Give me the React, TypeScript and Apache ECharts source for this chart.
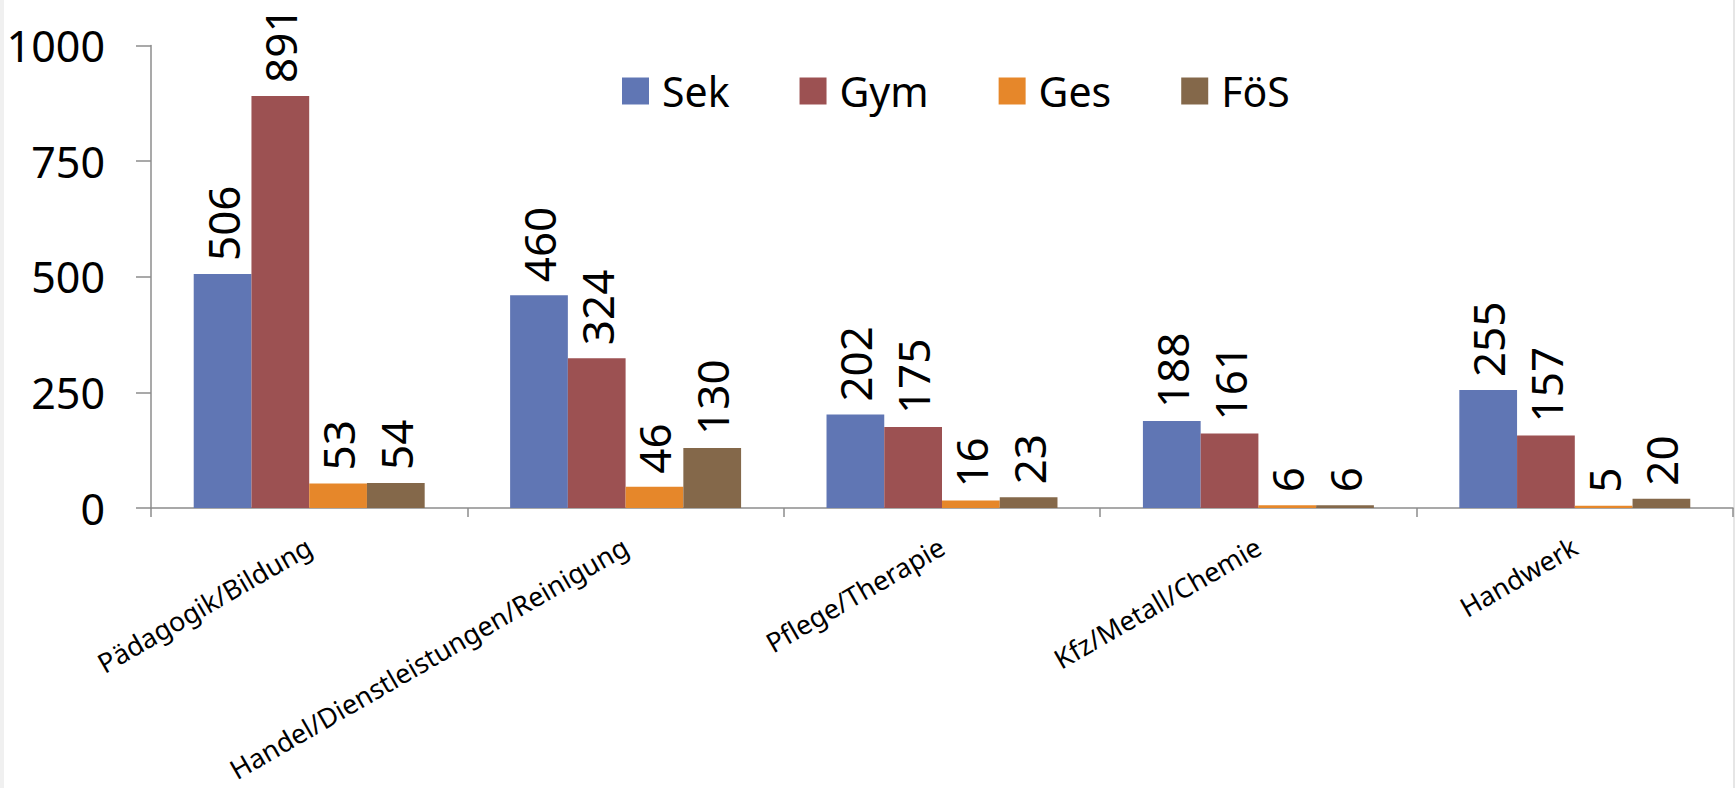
import React, { useEffect, useRef } from "react";
import * as echarts from "echarts";

const categories = [
  "Pädagogik/Bildung",
  "Handel/Dienstleistungen/Reinigung",
  "Pflege/Therapie",
  "Kfz/Metall/Chemie",
  "Handwerk",
];
const seriesNames = ["Sek", "Gym", "Ges", "FöS"];
const sek = [506, 460, 202, 188, 255];
const gym = [891, 324, 175, 161, 157];
const ges = [53, 46, 16, 6, 5];
const foes = [54, 130, 23, 6, 20];
const yTicks = { min: 0, max: 1000, interval: 250 };

const colors = ["#6076B4", "#9C5152", "#E6872A", "#84684A"];
const FONT = "Noto Sans";

export default function App() {
  const ref = useRef<HTMLDivElement>(null);
  useEffect(() => {
    if (!ref.current) return;
    const chart = echarts.init(ref.current, undefined, { renderer: "svg" });
    const values = [sek, gym, ges, foes];
    chart.setOption({
      animation: false,
      backgroundColor: "#ffffff",
      textStyle: { fontFamily: FONT },
      graphic: [
        { type: "rect", shape: { x: 0, y: 0, width: 4, height: 788 }, style: { fill: "#f0f0f0" }, silent: true },
        { type: "rect", shape: { x: 1733, y: 0, width: 2, height: 788 }, style: { fill: "#e6e6e6" }, silent: true },
      ],
      legend: {
        data: seriesNames,
        left: 617,
        top: 65,
        orient: "horizontal",
        itemWidth: 27,
        itemHeight: 27,
        itemGap: 70,
        icon: "rect",
        textStyle: {
          fontFamily: FONT,
          fontSize: 41,
          color: "#000",
          lineHeight: 42,
          padding: [0, 0, 0, 8],
        },
      },
      grid: { left: 151, right: 2, top: 45.5, bottom: 280, containLabel: false },
      xAxis: {
        type: "category",
        data: categories,
        boundaryGap: true,
        axisLine: { show: true, lineStyle: { color: "#8c8c8c", width: 1.5 } },
        axisTick: { show: true, length: 9, interval: 0, lineStyle: { color: "#8c8c8c", width: 1.5 } },
        axisLabel: {
          interval: 0,
          rotate: 30,
          margin: 36,
          align: "right",
          verticalAlign: "middle",
          fontFamily: FONT,
          fontSize: 27,
          color: "#000",
        },
        splitLine: { show: false },
      },
      yAxis: {
        type: "value",
        min: yTicks.min,
        max: yTicks.max,
        interval: yTicks.interval,
        axisLine: { show: true, lineStyle: { color: "#8c8c8c", width: 1.5 } },
        axisTick: { show: true, length: 15, inside: false, lineStyle: { color: "#8c8c8c", width: 1.5 } },
        axisLabel: {
          margin: 46,
          fontFamily: FONT,
          fontSize: 43,
          color: "#000",
          formatter: (v: number) => String(v),
        },
        splitLine: { show: false },
      },
      series: seriesNames.map((name, i) => ({
        name,
        type: "bar",
        data: values[i],
        barGap: "0%",
        barCategoryGap: "27%",
        itemStyle: { color: colors[i] },
        label: {
          show: true,
          position: "top",
          rotate: 90,
          align: "left",
          verticalAlign: "middle",
          distance: 13,
          fontFamily: FONT,
          fontSize: 44,
          color: "#000",
        },
      })),
    });
    return () => chart.dispose();
  }, []);
  return (
    <div
      ref={ref}
      style={{ position: "absolute", left: 0, top: 0, width: 1735, height: 788 }}
    />
  );
}
